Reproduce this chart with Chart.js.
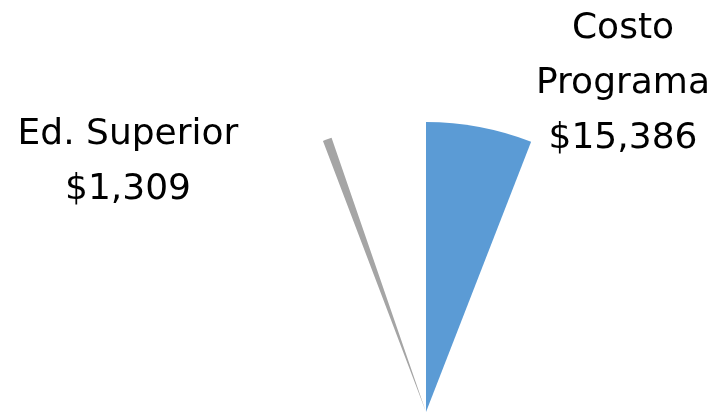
<!DOCTYPE html>
<html lang="es">
<head>
  <meta charset="UTF-8" />
  <title>Costo Programa</title>
  <script src="https://cdn.jsdelivr.net/npm/chart.js"></script>
  <style>
    html, body { margin: 0; padding: 0; background: #fff; overflow: hidden; }
    #wrap { width: 717px; height: 415px; overflow: hidden; }
    canvas { display: block; }
  </style>
</head>
<body>
  <div id="wrap"><canvas id="pieChart" width="717" height="824"></canvas></div>

  <script>
    // slices (only two are shown, the rest are unfilled like the original)
    const categories = ['Costo Programa', 'Otros', 'Ed. Superior', 'Resto'];
    const values = [15386, 230200, 1309, 13760];
    const colors = ['#5B9BD5', 'rgba(0,0,0,0)', '#A5A5A5', 'rgba(0,0,0,0)'];
    const shownLabels = [['Costo', 'Programa'], null, ['Ed. Superior'], null];

    const fmt = v => '$' + v.toLocaleString('en-US');

    // labels placed relative to the pie centre
    const labelOffsets = [[197, -374], null, [-298, -268], null];

    const labelPlugin = {
      id: 'sliceLabels',
      afterDraw(chart) {
        const ctx = chart.ctx;
        const arc = chart.getDatasetMeta(0).data[0];
        const cx = arc.x, cy = arc.y;
        ctx.save();
        ctx.fillStyle = '#000';
        ctx.font = '36px "DejaVu Sans"';
        ctx.textAlign = 'center';
        ctx.textBaseline = 'alphabetic';
        values.forEach((v, i) => {
          if (!shownLabels[i]) return;
          const lines = shownLabels[i].concat([fmt(v)]);
          const [ox, oy] = labelOffsets[i];
          lines.forEach((t, k) => ctx.fillText(t, cx + ox, cy + oy + k * 55));
        });
        ctx.restore();
      }
    };

    new Chart(document.getElementById('pieChart'), {
      type: 'pie',
      data: {
        labels: categories,
        datasets: [{
          data: values,
          backgroundColor: colors,
          borderWidth: 0,
          hoverOffset: 0
        }]
      },
      options: {
        responsive: false,
        animation: false,
        radius: 290,
        layout: { padding: { left: 136, right: 1, top: 122, bottom: 122 } },
        plugins: {
          legend: { display: false },
          tooltip: { enabled: false }
        }
      },
      plugins: [labelPlugin]
    });
  </script>
</body>
</html>
